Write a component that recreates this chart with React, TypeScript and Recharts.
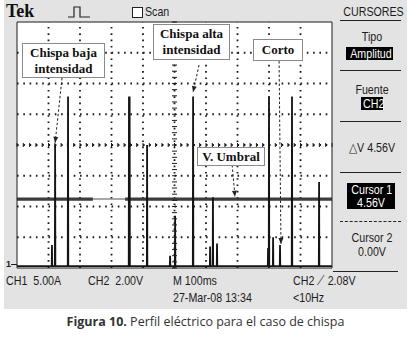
import React from 'react';
import { LineChart, Line, XAxis, YAxis, CartesianGrid, ReferenceLine, ReferenceDot } from 'recharts';

// horizontal: ms (M 100ms / div), vertical: screen divisions (0 = bottom)
const timeDivs = [0, 100, 200, 300, 400, 500, 600, 700, 800, 900, 1000];
const levelDivs = [0, 1, 2, 3, 4, 5, 6, 7, 8];
const timeMinor = Array.from({ length: 51 }, (_, i) => i * 20);
const levelMinor = Array.from({ length: 41 }, (_, i) => +(i * 0.2).toFixed(1));

// CH1 current pulses
const pulseTimes = [111, 121, 162, 355.5, 357.5, 413, 486, 502, 559, 613, 622, 635, 797, 800, 813, 835, 873, 959];
const pulsePeaks = [0.75, 4.0, 5.58, 5.58, 5.58, 4.0, 0.4, 1.7, 5.58, 0.7, 2.3, 0.8, 0.65, 5.58, 1.0, 0.75, 5.58, 2.8];
const ch1Base = 0.06;

// CH2 threshold (V. Umbral) with the thin stretch
const umbralLevel = 2.24;
const umbralGap = [241, 343];

const ch1: { t: number; v: number }[] = [{ t: 0, v: ch1Base }];
pulseTimes.forEach((t, i) => {
  ch1.push({ t: t - 0.8, v: ch1Base }, { t, v: pulsePeaks[i] }, { t: t + 0.8, v: ch1Base });
});
ch1.push({ t: 1000, v: ch1Base });

const ch2Thick = [
  { t: 0, v: umbralLevel },
  { t: umbralGap[0], v: umbralLevel },
  { t: (umbralGap[0] + umbralGap[1]) / 2, v: null },
  { t: umbralGap[1], v: umbralLevel },
  { t: 1000, v: umbralLevel },
];
const ch2Thin = [
  { t: umbralGap[0], v: umbralLevel },
  { t: umbralGap[1], v: umbralLevel },
];

// callout arrows, in data units
const arrows = [
  { from: { t: 143, v: 6.18 }, to: { t: 121, v: 4.07 } },
  { from: { t: 578, v: 6.6 }, to: { t: 559, v: 5.72 } },
  { from: { t: 832, v: 6.73 }, to: { t: 838, v: 0.78 } },
  { from: { t: 683, v: 3.35 }, to: { t: 692, v: 2.32 } },
];

const PX_T = 0.315;
const PX_V = 30.75;
const ink = '#1c1c1c';

const NoTick = () => <g />;

const VTick = ({ cx, cy }: any) => <line x1={cx} x2={cx} y1={cy - 2} y2={cy + 2} stroke={ink} strokeWidth={1} />;
const HTick = ({ cx, cy }: any) => <line x1={cx - 2.5} x2={cx + 2.5} y1={cy} y2={cy} stroke={ink} strokeWidth={1} />;

const makeHead = (angle: number) => ({ cx, cy }: any) => (
  <polygon
    points={`${cx},${cy} ${cx - 6},${cy - 2.5} ${cx - 6},${cy + 2.5}`}
    fill="#222"
    transform={`rotate(${angle} ${cx} ${cy})`}
  />
);

const scope: React.CSSProperties = {
  position: 'absolute',
  fontFamily: 'Liberation Sans, Arial, sans-serif',
  fontSize: 13,
  lineHeight: '14px',
  color: ink,
  whiteSpace: 'pre',
  transform: 'scaleX(0.82)',
  transformOrigin: 'left top',
};

const callout: React.CSSProperties = {
  position: 'absolute',
  background: '#fff',
  border: '1px solid #8a8a8a',
  fontFamily: 'Liberation Serif, Times New Roman, serif',
  fontWeight: 'bold',
  fontSize: 13,
  lineHeight: '16px',
  color: '#111',
  textAlign: 'center',
  display: 'flex',
  alignItems: 'center',
  justifyContent: 'center',
  boxSizing: 'border-box',
};

const PanelText = ({ y, children, w = 60 }: any) => (
  <div style={{ ...scope, left: 372 - w / 2, top: y, width: w, textAlign: 'center', transformOrigin: 'center top' }}>
    {children}
  </div>
);

const InvBox = ({ x, y, w, h, children }: any) => (
  <div style={{ position: 'absolute', left: x, top: y, width: w, height: h, background: '#000' }}>
    <div style={{ ...scope, left: 0, top: 0, width: w, color: '#fff', textAlign: 'center', transformOrigin: 'center top', lineHeight: h > 20 ? '13px' : `${h}px` }}>
      {children}
    </div>
  </div>
);

const Rule = ({ y, dashed = false, x1 = 340, x2 = 401 }: any) => (
  <div style={{ position: 'absolute', left: x1, top: y, width: x2 - x1, borderTop: `1.5px ${dashed ? 'dashed' : 'solid'} #222` }} />
);

const dotted = { stroke: '#1a1a1a', strokeWidth: 1.8, strokeDasharray: '1.6 4.7' };

export default function App() {
  return (
    <div style={{ position: 'absolute', left: 0, top: 0, width: 411, height: 337, background: '#fff', overflow: 'hidden' }}>
      <div style={{ position: 'absolute', left: 4, top: 0, width: 403, height: 309, background: '#e3e3e3' }} />

      <div style={{ position: 'absolute', left: 0, top: 0 }}>
        <LineChart width={411} height={337} margin={{ top: 22, left: 17, right: 79, bottom: 69 }}>
          <CartesianGrid horizontal={false} vertical={false} fill="#fff" fillOpacity={1} />
          <XAxis xAxisId={0} dataKey="t" type="number" domain={[0, 1000]} ticks={timeDivs} hide />
          <YAxis yAxisId={0} type="number" domain={[0, 8]} ticks={levelDivs} hide />
          <XAxis xAxisId="bot" type="number" domain={[0, 1000]} ticks={timeMinor} interval={0} orientation="bottom" mirror tickSize={3} tick={NoTick} axisLine={{ stroke: ink }} tickLine={{ stroke: ink }} />
          <XAxis xAxisId="top" type="number" domain={[0, 1000]} ticks={timeMinor} interval={0} orientation="top" mirror tickSize={3} tick={NoTick} axisLine={{ stroke: ink }} tickLine={{ stroke: ink }} />
          <YAxis yAxisId="left" type="number" domain={[0, 8]} ticks={levelMinor} interval={0} orientation="left" mirror tickSize={3} tick={NoTick} axisLine={{ stroke: ink }} tickLine={{ stroke: ink }} />
          <YAxis yAxisId="right" type="number" domain={[0, 8]} ticks={levelMinor} interval={0} orientation="right" mirror tickSize={3} tick={NoTick} axisLine={{ stroke: ink }} tickLine={{ stroke: ink }} />

          {timeDivs.slice(1, -1).map((t) => (
            <ReferenceLine key={'gx' + t} x={t} {...dotted} />
          ))}
          {levelDivs.slice(1, -1).map((v) => (
            <ReferenceLine key={'gy' + v} y={v} {...dotted} />
          ))}
          {timeMinor.map((t) => (
            <ReferenceDot key={'c' + t} x={t} y={4} r={1} shape={VTick} />
          ))}
          {levelMinor.map((v) => (
            <ReferenceDot key={'m' + v} x={500} y={v} r={1} shape={HTick} />
          ))}

          <Line data={ch2Thick} dataKey="v" type="linear" stroke="#3c3c3c" strokeWidth={3.2} dot={false} connectNulls={false} isAnimationActive={false} />
          <Line data={ch2Thin} dataKey="v" type="linear" stroke="#8a8a8a" strokeWidth={1.5} dot={false} isAnimationActive={false} />
          <Line data={ch1} dataKey="v" type="linear" stroke="#141414" strokeWidth={1.8} dot={false} isAnimationActive={false} />

          {arrows.map((a, i) => (
            <ReferenceLine
              key={'a' + i}
              segment={[{ x: a.from.t, y: a.from.v }, { x: a.to.t, y: a.to.v }]}
              stroke="#222"
              strokeWidth={1}
              strokeDasharray="2.5 2"
            />
          ))}
          {arrows.map((a, i) => {
            const ang = (Math.atan2(-(a.to.v - a.from.v) * PX_V, (a.to.t - a.from.t) * PX_T) * 180) / Math.PI;
            return <ReferenceDot key={'h' + i} x={a.to.t} y={a.to.v} r={1} shape={makeHead(ang)} />;
          })}
        </LineChart>
      </div>

      {/* callouts */}
      <div style={{ ...callout, left: 22, top: 43, width: 83, height: 35 }}>Chispa baja<br />intensidad</div>
      <div style={{ ...callout, left: 153, top: 24, width: 77, height: 36 }}>Chispa alta<br />intensidad</div>
      <div style={{ ...callout, left: 253, top: 39, width: 50, height: 22 }}>Corto</div>
      <div style={{ ...callout, left: 197, top: 147, width: 68, height: 19 }}>V. Umbral</div>

      {/* top bar */}
      <div style={{ position: 'absolute', left: 6, top: 1, fontFamily: 'Liberation Serif, serif', fontWeight: 'bold', fontSize: 18, lineHeight: '20px', color: '#111' }}>Tek</div>
      <svg style={{ position: 'absolute', left: 66, top: 4 }} width={26} height={16}>
        <polyline points="2,13 8,13 8,3 14,3 14,13 24,13" fill="none" stroke="#222" strokeWidth={1.2} />
      </svg>
      <div style={{ position: 'absolute', left: 132, top: 7, width: 9, height: 9, border: '1px solid #222', background: '#fff' }} />
      <div style={{ ...scope, left: 145, top: 5 }}>Scan</div>

      {/* cursor panel */}
      <PanelText y={5} w={70}>CURSORES</PanelText>
      <Rule y={20} />
      <PanelText y={30}>Tipo</PanelText>
      <InvBox x={346} y={47} w={47} h={13}>Amplitud</InvBox>
      <Rule y={70} />
      <PanelText y={83}>Fuente</PanelText>
      <InvBox x={361} y={97} w={22} h={13}>CH2</InvBox>
      <Rule y={121} />
      <PanelText y={141} w={70}>{'\u25B3V 4.56V'}</PanelText>
      <Rule y={172} />
      <InvBox x={347} y={183} w={48} h={26}>{'Cursor 1\n4.56V'}</InvBox>
      <Rule y={221} dashed />
      <PanelText y={231}>Cursor 2</PanelText>
      <PanelText y={245}>0.00V</PanelText>
      <Rule y={271} x1={333} x2={398} />

      {/* ch1 ground marker */}
      <div style={{ position: 'absolute', left: 6, top: 259, fontFamily: 'Liberation Sans, sans-serif', fontWeight: 'bold', fontSize: 9, lineHeight: '10px', color: ink }}>1</div>
      <div style={{ position: 'absolute', left: 11, top: 264, width: 6, borderTop: `1px solid ${ink}` }} />

      {/* bottom readouts */}
      <div style={{ ...scope, left: 6, top: 274 }}>CH1  5.00A</div>
      <div style={{ ...scope, left: 88, top: 274 }}>CH2  2.00V</div>
      <div style={{ ...scope, left: 173, top: 274 }}>M 100ms</div>
      <div style={{ ...scope, left: 293, top: 274 }}>{'CH2 \u27CB 2.08V'}</div>
      <div style={{ ...scope, left: 173, top: 291 }}>27-Mar-08 13:34</div>
      <div style={{ ...scope, left: 293, top: 291 }}>{'<10Hz'}</div>

      {/* caption */}
      <div style={{ position: 'absolute', left: 0, top: 315, width: 411, textAlign: 'center', fontFamily: 'Open Sans, sans-serif', fontSize: 12.5, lineHeight: '14px', color: '#333' }}>
        <b>Figura 10.</b> Perfil eléctrico para el caso de chispa
      </div>
    </div>
  );
}
